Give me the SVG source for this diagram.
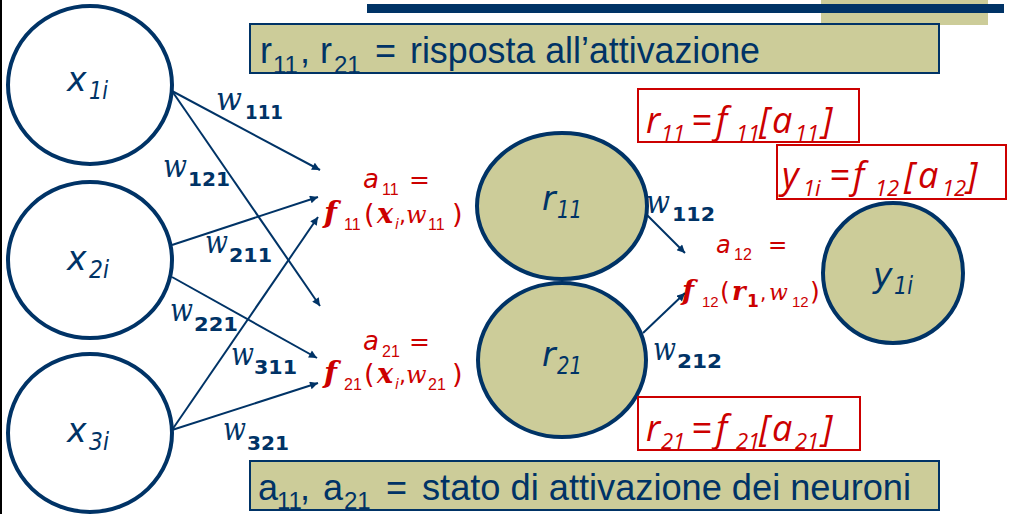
<svg xmlns="http://www.w3.org/2000/svg" width="1010" height="514" viewBox="0 0 1010 514">
<style>
.nodeW{fill:#ffffff;stroke:#003366;stroke-width:4}
.nodeT{fill:#CCCC99;stroke:#003366;stroke-width:4}
.lbl{font-family:"DejaVu Sans",Verdana,sans-serif;font-style:italic;fill:#003366}
.lm{font-size:33px}
.ls{font-size:24px}
.conn{stroke:#003366;stroke-width:2;fill:none;marker-end:url(#ah)}
.wi{font-family:"DejaVu Serif","Liberation Serif",serif;font-style:italic;font-size:31px;fill:#003366}
.ws{font-family:"DejaVu Sans",sans-serif;font-weight:bold;font-size:20px;fill:#003366}
.tbox{fill:#CCCC99;stroke:#003366;stroke-width:2}
.tt{font-family:"Liberation Sans",Arial,sans-serif;font-size:36px;fill:#003366}
.tts{font-size:24px}
.rbox{fill:none;stroke:#CC0000;stroke-width:2}
.rf{font-family:"Open Sans","Liberation Sans",sans-serif;font-style:italic;font-size:36px;fill:#CC0000}
.rfs{font-size:22px}
.rt{fill:#CC0000}
.ra{font-family:"DejaVu Sans",sans-serif;font-style:italic}
.rn{font-family:"DejaVu Sans",sans-serif;font-style:normal}
.rs{font-family:"Liberation Sans",Arial,sans-serif;font-style:normal}
.rfb{font-family:"DejaVu Serif","Liberation Serif",serif;font-style:italic;font-weight:bold}
.rwi{font-family:"DejaVu Serif","Liberation Serif",serif;font-style:italic}
</style>
<defs>
<marker id="ah" viewBox="0 0 10 10" refX="10" refY="5" markerWidth="9" markerHeight="8" markerUnits="userSpaceOnUse" orient="auto">
<path d="M0,0 L10,5 L0,10 z" fill="#003366"/>
</marker>
</defs>
<rect x="0" y="0" width="1010" height="514" fill="#ffffff"/>
<rect x="0" y="0" width="2" height="514" fill="#000000"/>
<g id="header">
<rect x="821" y="0" width="167" height="25" fill="#CCCC99"/>
<rect x="367" y="4" width="637" height="9" fill="#003366"/>
</g>
<g id="box-risposta">
<rect class="tbox" x="250" y="24" width="689" height="49"/>
<text class="tt"><tspan x="260" y="63">r</tspan><tspan class="tts" x="273" y="73">11</tspan><tspan x="300" y="63">,</tspan><tspan x="320" y="63">r</tspan><tspan class="tts" x="334" y="73">21</tspan><tspan x="375" y="63">=</tspan></text>
<text class="tt" x="410" y="63" textLength="350" lengthAdjust="spacingAndGlyphs">risposta all’attivazione</text>
</g>
<g id="box-stato">
<rect class="tbox" x="250" y="461" width="689" height="49"/>
<text class="tt"><tspan x="258" y="500">a</tspan><tspan class="tts" x="277" y="509">11</tspan><tspan x="300" y="500">,</tspan><tspan x="323" y="500">a</tspan><tspan class="tts" x="344" y="509">21</tspan><tspan x="386" y="500">=</tspan></text>
<text class="tt" x="422" y="500" textLength="489" lengthAdjust="spacingAndGlyphs">stato di attivazione dei neuroni</text>
</g>
<g id="connectors">
<line class="conn" x1="172" y1="91" x2="320" y2="170"/>
<line class="conn" x1="172" y1="91" x2="320" y2="306"/>
<line class="conn" x1="172" y1="245" x2="318" y2="197"/>
<line class="conn" x1="172" y1="277" x2="317" y2="358"/>
<line class="conn" x1="172" y1="430" x2="318" y2="217"/>
<line class="conn" x1="172" y1="430" x2="318" y2="383"/>
<line class="conn" x1="647" y1="215" x2="685" y2="253"/>
<line class="conn" x1="643" y1="333" x2="685" y2="293"/>
<text class="wi" x="216" y="110" textLength="26" lengthAdjust="spacingAndGlyphs">w</text><text class="ws" x="245" y="119" textLength="38" lengthAdjust="spacingAndGlyphs">111</text>
<text class="wi" x="163" y="177" textLength="24" lengthAdjust="spacingAndGlyphs">w</text><text class="ws" x="188" y="186" textLength="42" lengthAdjust="spacingAndGlyphs">121</text>
<text class="wi" x="205" y="253" textLength="23" lengthAdjust="spacingAndGlyphs">w</text><text class="ws" x="229" y="262" textLength="43" lengthAdjust="spacingAndGlyphs">211</text>
<text class="wi" x="170" y="321" textLength="23" lengthAdjust="spacingAndGlyphs">w</text><text class="ws" x="194" y="331" textLength="44" lengthAdjust="spacingAndGlyphs">221</text>
<text class="wi" x="231" y="365" textLength="23" lengthAdjust="spacingAndGlyphs">w</text><text class="ws" x="254" y="374" textLength="43" lengthAdjust="spacingAndGlyphs">311</text>
<text class="wi" x="223" y="440" textLength="23" lengthAdjust="spacingAndGlyphs">w</text><text class="ws" x="247" y="450" textLength="42" lengthAdjust="spacingAndGlyphs">321</text>
<text class="wi" x="646" y="213" textLength="24" lengthAdjust="spacingAndGlyphs">w</text><text class="ws" x="672" y="221" textLength="43" lengthAdjust="spacingAndGlyphs">112</text>
<text class="wi" x="653" y="360" textLength="23" lengthAdjust="spacingAndGlyphs">w</text><text class="ws" x="677" y="368" textLength="45" lengthAdjust="spacingAndGlyphs">212</text>
</g>
<g id="node-x1i">
<ellipse class="nodeW" cx="90" cy="85" rx="82" ry="79"/>
<text class="lbl lm" x="67" y="91">x</text><text class="lbl ls" x="89" y="99" textLength="19" lengthAdjust="spacingAndGlyphs">1i</text>
</g>
<g id="node-x2i">
<ellipse class="nodeW" cx="90" cy="260" rx="82" ry="78"/>
<text class="lbl lm" x="67" y="270">x</text><text class="lbl ls" x="89" y="278" textLength="20" lengthAdjust="spacingAndGlyphs">2i</text>
</g>
<g id="node-x3i">
<ellipse class="nodeW" cx="90" cy="433" rx="82" ry="79"/>
<text class="lbl lm" x="67" y="442">x</text><text class="lbl ls" x="89" y="450" textLength="20" lengthAdjust="spacingAndGlyphs">3i</text>
</g>
<g id="node-r11">
<ellipse class="nodeT" cx="562" cy="206" rx="85" ry="73"/>
<text class="lbl lm" x="542" y="210">r</text><text class="lbl ls" x="557" y="218" textLength="25" lengthAdjust="spacingAndGlyphs">11</text>
</g>
<g id="node-r21">
<ellipse class="nodeT" cx="562" cy="360" rx="84" ry="77"/>
<text class="lbl lm" x="542" y="366">r</text><text class="lbl ls" x="557" y="374" textLength="25" lengthAdjust="spacingAndGlyphs">21</text>
</g>
<g id="node-y1i">
<ellipse class="nodeT" cx="893" cy="273" rx="70" ry="70"/>
<text class="lbl lm" x="873" y="287">y</text><text class="lbl ls" x="894" y="294" textLength="19" lengthAdjust="spacingAndGlyphs">1i</text>
</g>
<g id="act-a11">
<text class="rt"><tspan class="ra" x="363" y="188" font-size="26">a</tspan><tspan class="rs" x="382" y="195" font-size="16">11</tspan><tspan class="rn" x="409" y="188" font-size="25">=</tspan></text>
<text class="rt"><tspan class="rfb" x="324" y="223" font-size="30">f</tspan><tspan class="rs" x="344" y="230" font-size="16">11</tspan><tspan class="rn" x="364" y="223" font-size="27">(</tspan><tspan class="rfb" x="377" y="223" font-size="27">x</tspan><tspan class="ra" x="395" y="229" font-size="14">i</tspan><tspan class="rn" x="399" y="223" font-size="22">,</tspan><tspan class="rwi" x="406" y="223" font-size="24">w</tspan><tspan class="rs" x="428" y="230" font-size="16">11</tspan><tspan class="rn" x="452" y="223" font-size="27">)</tspan></text>
</g>
<g id="act-a21">
<text class="rt"><tspan class="ra" x="363" y="350" font-size="26">a</tspan><tspan class="rs" x="382" y="357" font-size="16">21</tspan><tspan class="rn" x="409" y="350" font-size="25">=</tspan></text>
<text class="rt"><tspan class="rfb" x="324" y="383" font-size="30">f</tspan><tspan class="rs" x="344" y="390" font-size="16">21</tspan><tspan class="rn" x="364" y="383" font-size="27">(</tspan><tspan class="rfb" x="377" y="383" font-size="27">x</tspan><tspan class="ra" x="395" y="389" font-size="14">i</tspan><tspan class="rn" x="399" y="383" font-size="22">,</tspan><tspan class="rwi" x="406" y="383" font-size="24">w</tspan><tspan class="rs" x="428" y="390" font-size="16">21</tspan><tspan class="rn" x="452" y="383" font-size="27">)</tspan></text>
</g>
<g id="act-a12">
<text class="rt"><tspan class="ra" x="716" y="253" font-size="24">a</tspan><tspan class="rs" x="734" y="260" font-size="16">12</tspan><tspan class="rn" x="768" y="253" font-size="23">=</tspan></text>
<text class="rt"><tspan class="rfb" x="682" y="300" font-size="28">f</tspan><tspan class="rs" x="702" y="307" font-size="15">12</tspan><tspan class="rn" x="720" y="300" font-size="25">(</tspan><tspan class="rfb" x="732" y="300" font-size="26">r</tspan><tspan class="rn" x="747" y="307" font-size="17" font-weight="bold">1</tspan><tspan class="rn" x="760" y="300" font-size="20">,</tspan><tspan class="rwi" x="769" y="300" font-size="22">w</tspan><tspan class="rs" x="792" y="307" font-size="15">12</tspan><tspan class="rn" x="810" y="300" font-size="25">)</tspan></text>
</g>
<g id="eq-r11">
<rect class="rbox" x="638" y="89" width="221" height="53"/>
<text class="rf"><tspan x="646" y="133">r</tspan><tspan class="rfs" x="661" y="141">11</tspan><tspan x="691" y="133">=</tspan><tspan x="716" y="133">f</tspan><tspan class="rfs" x="736" y="141">11</tspan><tspan x="759" y="133">[</tspan><tspan x="772" y="133">a</tspan><tspan class="rfs" x="795" y="141">11</tspan><tspan x="822" y="133">]</tspan></text>
</g>
<g id="eq-y1i">
<rect class="rbox" x="777" y="145" width="229" height="54"/>
<text class="rf"><tspan x="782" y="188">y</tspan><tspan class="rfs" x="803" y="196">1i</tspan><tspan x="829" y="188">=</tspan><tspan x="853" y="188">f</tspan><tspan class="rfs" x="875" y="196">12</tspan><tspan x="904" y="188">[</tspan><tspan x="918" y="188">a</tspan><tspan class="rfs" x="942" y="196">12</tspan><tspan x="967" y="188">]</tspan></text>
</g>
<g id="eq-r21">
<rect class="rbox" x="638" y="397" width="222" height="53"/>
<text class="rf"><tspan x="646" y="441">r</tspan><tspan class="rfs" x="661" y="449">21</tspan><tspan x="691" y="441">=</tspan><tspan x="716" y="441">f</tspan><tspan class="rfs" x="736" y="449">21</tspan><tspan x="759" y="441">[</tspan><tspan x="772" y="441">a</tspan><tspan class="rfs" x="795" y="449">21</tspan><tspan x="822" y="441">]</tspan></text>
</g>
</svg>
